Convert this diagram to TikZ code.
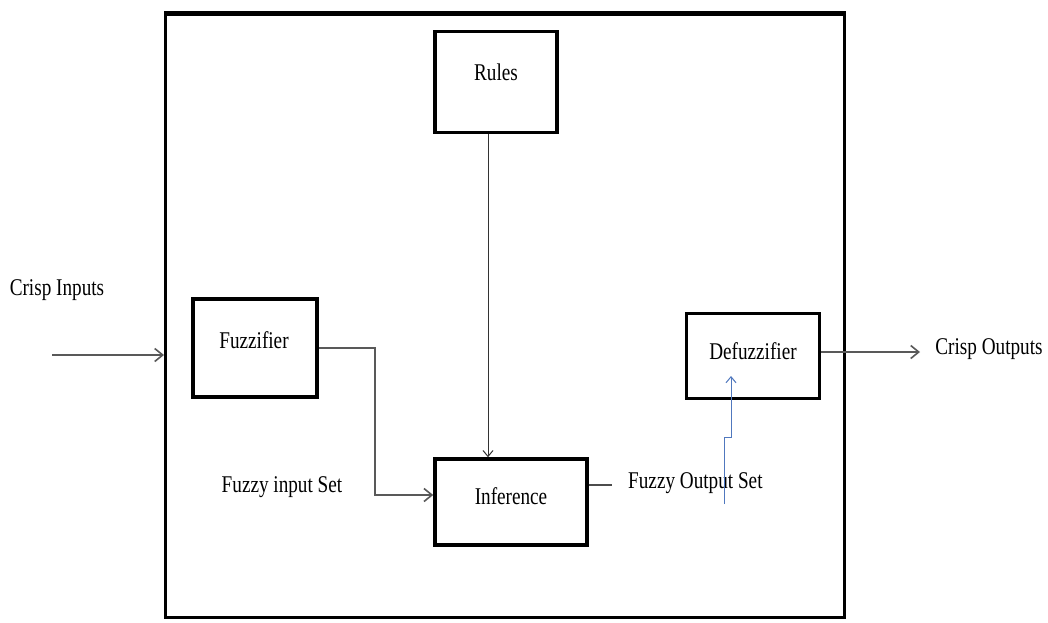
\documentclass[tikz,border=0pt]{standalone}
\usepackage{fontspec}
\setmainfont{Liberation Serif}[FakeStretch=0.8]
\usetikzlibrary{arrows.meta}
\begin{document}
\begin{tikzpicture}[x=1pt,y=-1pt,
  blk/.style={draw=black,line width=3.5pt,fill=white,inner sep=0pt,
    append after command={\pgfextra{\draw[line width=5pt,line cap=butt] ([yshift=-2.5pt]\tikzlastnode.north west) -- ([yshift=-2.5pt]\tikzlastnode.north east);}}},
  lbl/.style={font=\fontsize{24}{28}\selectfont,inner sep=0pt},
  conn/.style={draw=black!65,line width=1.8pt,-{Straight Barb[length=8pt,width=13pt,line width=1.6pt]}},
  thin/.style={draw=black!80,line width=1pt,-{Straight Barb[length=6pt,width=10pt,line width=1pt]}},
  blue/.style={draw={rgb,255:red,80;green,120;blue,190},line width=1pt,-{Straight Barb[length=6pt,width=10pt,line width=1pt]}}]
\useasboundingbox (0,0) rectangle (1048,622);
% outer frame
\node[draw=black,line width=3pt,minimum width=679pt,minimum height=605pt,inner sep=0pt] (outer) at (505,315) {};
\draw[line width=5pt,line cap=butt] ([yshift=-2.5pt]outer.north west) -- ([yshift=-2.5pt]outer.north east);
% blocks
\node[blk,minimum width=122pt,minimum height=101pt] (rules) at (496,82) {};
\node[lbl] at (496,72) {Rules};
\node[blk,minimum width=124pt,minimum height=98pt] (fuzz) at (255,348) {};
\node[lbl] at (254,340) {Fuzzifier};
\node[blk,minimum width=133pt,minimum height=85pt] (defuzz) at (753,356) {};
\node[lbl] at (753,351) {Defuzzifier};
\node[blk,minimum width=152pt,minimum height=86pt] (infer) at (511,502) {};
\node[lbl] at (511,496) {Inference};
% outside labels
\node[lbl] (cin) at (57,290) {Crisp Inputs};
\node[lbl] (cout) at (989,349) {Crisp Outputs};
\node[lbl] (fis) at (282,487) {Fuzzy input Set};
\node[lbl,anchor=west] (fos) at (628,483) {Fuzzy Output Set};
% connectors
\coordinate (cinstart) at (52,355);
\draw[conn] (cinstart) -- (cinstart -| outer.west);
\draw[conn] (defuzz.east |- 0,352) -- (920,352);
\draw[thin] (rules.south -| 488,0) -- (infer.north -| 488,0);
\draw[conn] (fuzz.east |- 0,348) -- (375,348) -- (375,495) -- (infer.west |- 0,495);
\draw[draw=black!70,line width=1.8pt] (infer.east |- 0,485) -- (612,485);
\coordinate (bstart) at (724,504);
\draw[blue] (bstart) -- (724,437) -- (731,437) -- (731,376);
\end{tikzpicture}
\end{document}
